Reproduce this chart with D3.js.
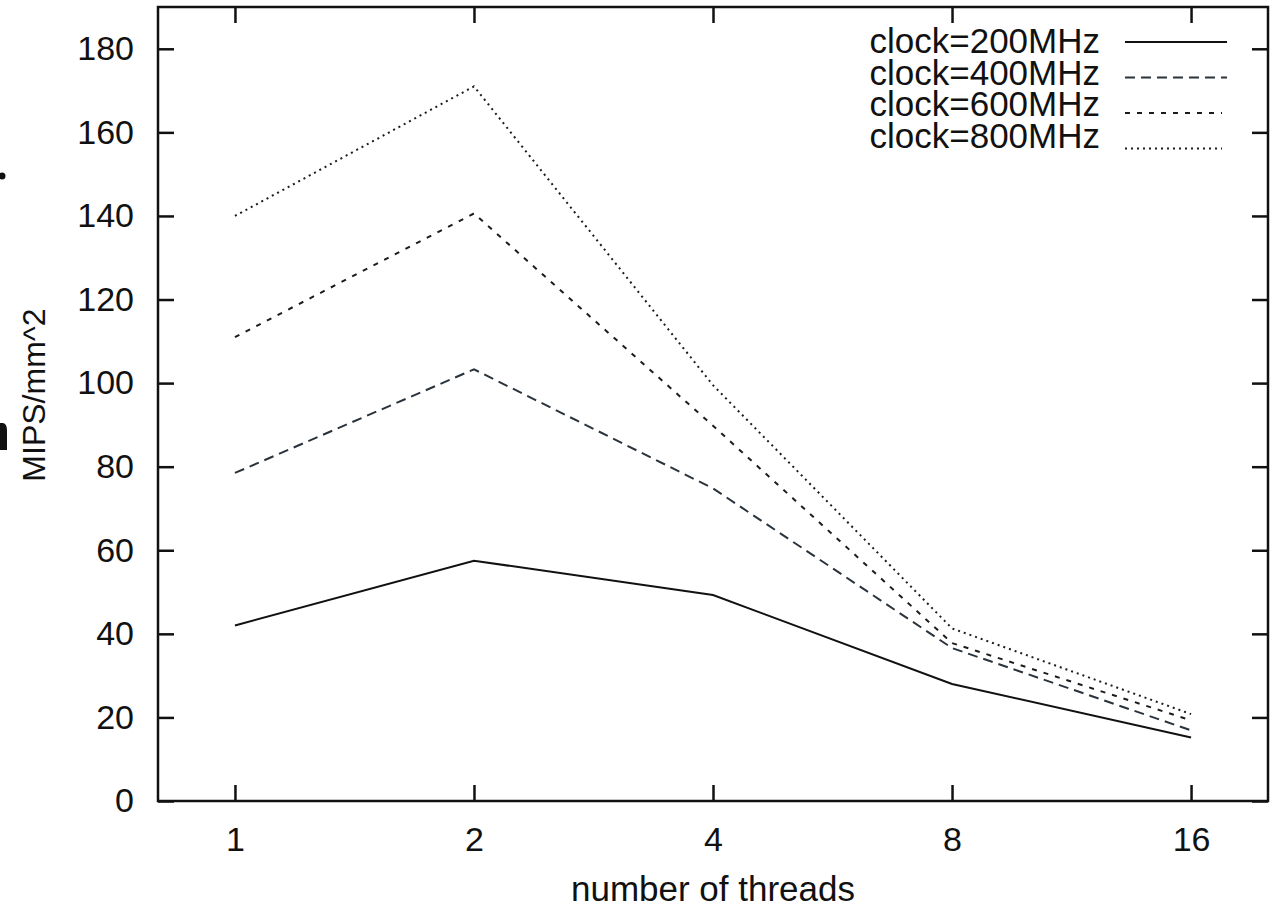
<!DOCTYPE html>
<html>
<head>
<meta charset="utf-8">
<script src="https://cdn.jsdelivr.net/npm/d3@7"></script>
<style>
  body { margin: 0; background: #fff; }
  svg { display: block; font-family: "Liberation Sans", Arial, Helvetica, sans-serif; }
</style>
</head>
<body>
<div id="chart"></div>
<script>
// Data
const threads = [1, 2, 4, 8, 16];
const clock200 = [42, 57.5, 49.3, 28, 15.2];
const clock400 = [78.5, 103.3, 74.8, 36.6, 16.9];
const clock600 = [111, 140.6, 89.8, 37.8, 19.3];
const clock800 = [140, 171, 99.5, 41.3, 20.8];
const seriesNames = ["clock=200MHz", "clock=400MHz", "clock=600MHz", "clock=800MHz"];
const yTicks = [0, 20, 40, 60, 80, 100, 120, 140, 160, 180];

const series = [clock200, clock400, clock600, clock800].map((vals, i) => ({
  name: seriesNames[i],
  values: vals.map((v, j) => ({ t: threads[j], v }))
}));

const W = 1272, H = 907;
const margin = { top: 7, right: 4, bottom: 106, left: 158 };
const width = W - margin.left - margin.right,
      height = H - margin.top - margin.bottom;

const dashes = [null, "10,6", "5,7", "2,4"];
const colors = ["#111", "#2a333b", "#1c1c1c", "#1c1c1c"];

const root = d3.select("#chart")
  .append("svg")
  .attr("width", W)
  .attr("height", H);

// bits of cropped-off text at the left edge of the original picture
root.append("circle")
  .attr("cx", 2)
  .attr("cy", 176)
  .attr("r", 3.5)
  .attr("fill", "#111");
root.append("path")
  .attr("d", "M0,423 L3,423 Q7,424 7,430 L7,450 L0,450 Z")
  .attr("fill", "#111");

const svg = root.append("g")
  .attr("transform", `translate(${margin.left},${margin.top})`);

const x = d3.scaleLog().base(2)
  .domain([0.8, 20])
  .range([0, width]);

const y = d3.scaleLinear()
  .domain([0, 190])
  .range([height, 0]);

// Axes (gnuplot style: ticks inward, mirrored on top/right)
const tickLen = 16;
const fmt = d3.format("d");

const xAxis = svg.append("g")
  .attr("transform", `translate(0,${height})`)
  .call(d3.axisBottom(x).tickValues(threads).tickFormat(fmt).tickSize(-tickLen).tickPadding(26));

const xTop = svg.append("g")
  .call(d3.axisTop(x).tickValues(threads).tickFormat("").tickSize(-tickLen));

const yAxis = svg.append("g")
  .call(d3.axisLeft(y).tickValues(yTicks).tickSize(-tickLen).tickPadding(24));

const yRight = svg.append("g")
  .attr("transform", `translate(${width},0)`)
  .call(d3.axisRight(y).tickValues(yTicks).tickFormat("").tickSize(-tickLen));

[xAxis, xTop, yAxis, yRight].forEach(g => {
  g.select(".domain").remove();
  g.selectAll(".tick line").attr("stroke", "#111").attr("stroke-width", 2.5);
  g.selectAll(".tick text")
    .attr("fill", "#111")
    .style("font-size", "34px");
});

// frame
svg.append("rect")
  .attr("x", 0)
  .attr("y", 0)
  .attr("width", width)
  .attr("height", height)
  .attr("fill", "none")
  .attr("stroke", "#111")
  .attr("stroke-width", 2.5);

// Lines
const line = d3.line()
  .x(d => x(d.t))
  .y(d => y(d.v));

svg.selectAll(".series")
  .data(series)
  .enter()
  .append("path")
  .attr("class", "series")
  .attr("d", d => line(d.values))
  .attr("fill", "none")
  .attr("stroke", (d, i) => colors[i])
  .attr("stroke-width", 2)
  .attr("stroke-dasharray", (d, i) => dashes[i]);

// Axis labels
svg.append("text")
  .attr("text-anchor", "middle")
  .attr("x", width / 2)
  .attr("y", height + 100)
  .attr("fill", "#111")
  .style("font-size", "35px")
  .text("number of threads");

svg.append("text")
  .attr("text-anchor", "middle")
  .attr("transform", "rotate(-90)")
  .attr("x", -(395 - margin.top))
  .attr("y", 45 - margin.left)
  .attr("fill", "#111")
  .style("font-size", "32px")
  .text("MIPS/mm^2");

// Legend (top right, no box)
const legend = svg.append("g")
  .attr("transform", `translate(${1100 - margin.left},0)`);

const rows = legend.selectAll(".row")
  .data(series)
  .enter()
  .append("g")
  .attr("class", "row");

rows.append("text")
  .attr("text-anchor", "end")
  .attr("x", 0)
  .attr("y", (d, i) => 53 - margin.top + i * 31.7)
  .attr("fill", "#111")
  .style("font-size", "35px")
  .text(d => d.name);

rows.append("line")
  .attr("x1", 25)
  .attr("x2", (d, i) => i === 0 || i === 1 ? 127 : 122)
  .attr("y1", (d, i) => 42 - margin.top + i * 35.5)
  .attr("y2", (d, i) => 42 - margin.top + i * 35.5)
  .attr("stroke", (d, i) => colors[i])
  .attr("stroke-width", 2)
  .attr("stroke-dasharray", (d, i) => dashes[i]);
</script>
</body>
</html>
